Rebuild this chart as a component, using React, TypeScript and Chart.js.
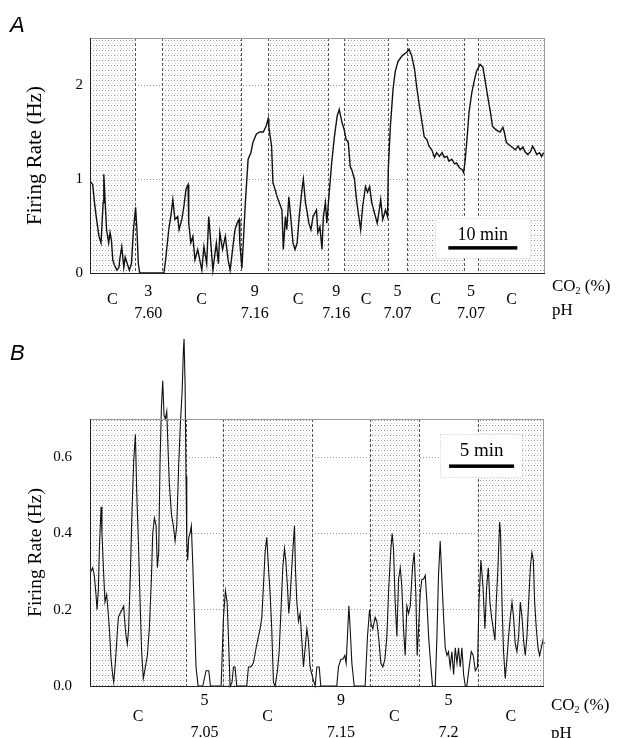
import React, { useEffect, useRef } from "react";
import { Chart, registerables } from "chart.js";
Chart.register(...registerables);

// ---------- Panel A data (time in minutes, firing rate in Hz) ----------
const timeA = [0.1,0.4,0.6,0.9,1.3,1.6,1.9,2.0,2.2,2.4,2.7,2.9,3.1,3.3,3.5,3.9,4.2,4.3,4.6,4.9,5.1,5.4,5.7,6.0,6.3,6.6,6.8,7.0,7.2,10.7,11.0,11.4,11.7,12.0,12.3,12.7,12.9,13.3,13.6,13.9,14.2,14.3,14.6,14.9,15.2,15.6,15.9,16.2,16.5,16.9,17.2,17.5,17.8,18.3,18.6,18.8,19.2,19.6,20.0,20.3,20.7,21.0,21.3,21.6,21.7,22.0,22.2,22.5,22.9,23.3,23.6,24.1,24.6,25.1,25.5,25.8,25.9,26.3,26.5,26.8,27.1,27.4,27.8,28.0,28.3,28.5,28.8,29.2,29.4,29.7,30.0,30.3,30.7,30.9,31.2,31.4,31.7,32.0,32.3,32.8,33.0,33.3,33.6,33.8,34.1,34.3,34.6,35.0,35.4,35.8,36.1,36.5,36.8,37.1,37.4,37.7,37.9,38.3,38.6,38.8,39.2,39.5,39.9,40.2,40.5,40.8,41.2,41.6,41.9,42.1,42.4,42.8,43.1,43.2,43.5,43.9,44.2,44.6,45.2,45.9,46.2,46.6,47.0,47.3,47.7,48.1,48.4,48.8,49.1,49.5,49.9,50.2,50.6,51.0,51.3,51.7,52.0,52.4,52.8,53.1,53.5,53.9,54.1,54.3,54.6,54.9,55.3,55.7,56.0,56.5,56.9,57.2,57.6,58.0,58.3,58.7,59.1,59.4,59.8,60.0,60.3,60.6,61.1,61.6,62.0,62.3,62.7,63.0,63.4,63.8,64.1,64.4,64.7,65.1,65.4,65.7];
const rateA = [0.97,0.94,0.78,0.60,0.39,0.32,0.75,1.05,0.75,0.46,0.32,0.43,0.35,0.14,0.09,0.03,0.06,0.14,0.28,0.06,0.17,0.10,0.03,0.10,0.46,0.70,0.46,0.10,0.0,0.0,0.17,0.46,0.60,0.78,0.57,0.60,0.46,0.57,0.71,0.89,0.94,0.53,0.32,0.39,0.14,0.25,0.14,0.03,0.28,0.10,0.60,0.32,0.03,0.32,0.10,0.43,0.25,0.39,0.14,0.03,0.28,0.46,0.53,0.57,0.32,0.05,0.32,0.75,1.21,1.28,1.39,1.48,1.50,1.50,1.56,1.64,1.55,1.35,0.96,0.89,0.81,0.75,0.67,0.25,0.60,0.46,0.81,0.49,0.32,0.25,0.32,0.60,0.89,1.00,0.75,0.67,0.53,0.46,0.60,0.67,0.43,0.49,0.25,0.60,0.75,0.53,0.81,1.17,1.45,1.67,1.74,1.60,1.53,1.42,1.39,1.13,1.10,1.00,0.78,0.67,0.46,0.71,0.92,0.86,0.92,0.75,0.64,0.53,0.67,0.78,0.57,0.67,0.60,1.10,1.56,1.96,2.14,2.25,2.31,2.35,2.38,2.31,2.17,1.99,1.78,1.60,1.45,1.42,1.35,1.31,1.23,1.28,1.24,1.28,1.23,1.24,1.19,1.21,1.16,1.17,1.12,1.10,1.07,1.17,1.42,1.71,1.92,2.06,2.15,2.22,2.19,2.06,1.88,1.71,1.56,1.53,1.51,1.50,1.55,1.50,1.39,1.37,1.34,1.31,1.35,1.31,1.34,1.29,1.26,1.29,1.35,1.31,1.26,1.28,1.24,1.28];
const controlStartA = [0, 10.4, 25.8, 36.8, 45.9, 56.2];
const controlEndA = [6.5, 21.9, 34.5, 43.2, 54.2, 65.9];
const co2A = ["3", "9", "9", "5", "5"];
const phA = ["7.60", "7.16", "7.16", "7.07", "7.07"];
const yTicksA = [0, 1, 2];

// ---------- Panel B data ----------
const timeB = [0.08,0.21,0.33,0.46,0.54,0.64,0.72,0.85,0.92,1.03,1.15,1.28,1.38,1.49,1.62,1.74,1.82,1.95,2.08,2.18,2.31,2.46,2.59,2.67,2.77,2.87,2.97,3.10,3.23,3.36,3.49,3.59,3.72,3.85,3.97,4.10,4.26,4.41,4.56,4.72,4.82,4.95,5.08,5.18,5.28,5.38,5.49,5.59,5.69,5.79,5.90,6.00,6.10,6.26,6.41,6.54,6.67,6.82,6.95,7.08,7.18,7.23,7.31,7.38,7.44,7.51,7.59,7.69,7.79,7.90,8.03,8.15,8.31,8.67,8.92,9.13,9.26,10.08,10.26,10.41,10.54,10.64,10.77,10.92,11.03,11.15,11.28,
  11.54,12.05,12.18,12.36,12.56,12.77,12.95,13.08,13.21,13.33,13.46,13.59,13.72,13.85,13.97,14.10,14.23,14.41,14.54,14.67,14.82,14.95,15.05,15.18,15.28,15.38,15.51,15.64,15.72,15.79,15.90,16.03,16.15,16.28,16.41,16.54,16.67,16.79,16.92,17.13,17.31,17.44,17.62,17.74,18.97,19.10,19.28,19.44,19.59,19.69,19.79,19.90,20.00,20.13,20.31,21.15,21.33,21.49,21.62,21.74,21.92,22.05,22.21,22.36,22.51,22.67,22.82,22.97,23.13,23.23,23.33,23.46,23.59,23.72,
  23.85,23.97,24.10,24.23,24.36,24.49,24.62,24.79,24.92,25.05,25.15,25.26,25.38,25.51,25.64,25.77,25.90,26.03,26.18,26.33,26.54,26.67,26.79,26.92,27.05,27.18,27.31,27.44,27.56,27.69,27.82,27.95,28.08,28.21,28.33,28.46,28.59,28.72,28.85,28.97,29.15,29.31,29.46,29.62,29.79,29.90,30.05,30.21,30.36,30.49,30.62,30.74,30.87,31.00,31.13,31.23,31.36,31.49,31.56,31.67,31.79,31.92,32.05,32.18,32.31,32.44,32.56,32.69,32.82,32.95,33.08,33.21,33.33,33.46,33.59,33.72,33.85,33.97,34.08,34.18,34.31,34.44,34.56,34.69,34.82,34.92];
const rateB = [0.30,0.31,0.29,0.24,0.20,0.25,0.36,0.47,0.40,0.31,0.22,0.24,0.20,0.15,0.07,0.03,0.01,0.06,0.13,0.18,0.19,0.20,0.21,0.17,0.13,0.11,0.15,0.29,0.46,0.59,0.66,0.51,0.38,0.22,0.09,0.02,0.05,0.08,0.15,0.28,0.40,0.44,0.42,0.31,0.35,0.58,0.73,0.80,0.71,0.70,0.72,0.62,0.53,0.45,0.42,0.38,0.42,0.58,0.69,0.77,0.88,0.91,0.79,0.55,0.38,0.33,0.39,0.40,0.42,0.32,0.18,0.05,0,0,0.04,0.04,0,0,0.18,0.25,0.22,0.13,0,0.01,0.05,0.05,0,
  0,0,0.05,0.05,0.06,0.10,0.13,0.15,0.18,0.26,0.35,0.39,0.31,0.24,0.15,0.01,0,0.04,0.09,0.19,0.31,0.36,0.33,0.26,0.19,0.23,0.31,0.38,0.42,0.31,0.22,0.17,0.19,0.12,0.05,0.10,0.15,0.12,0.05,0.02,0,0.05,0.05,0,0,0.05,0.07,0.07,0.08,0.06,0.13,0.21,0.15,0.06,0,0,0.13,0.20,0.16,0.15,0.18,0.17,0.12,0.06,0.05,0.07,0.13,0.26,0.36,0.40,0.36,0.22,0.13,0.28,
  0.31,0.26,0.15,0.08,0.21,0.19,0.21,0.31,0.35,0.24,0.08,0.15,0.24,0.28,0.28,0.29,0.22,0.13,0.06,0,0,0.13,0.29,0.38,0.28,0.18,0.10,0.08,0.09,0.05,0.09,0.03,0.10,0.06,0.10,0.05,0.10,0.03,0,0,0.05,0.09,0.08,0.04,0.05,0.22,0.33,0.26,0.15,0.26,0.31,0.22,0.18,0.15,0.12,0.22,0.31,0.43,0.40,0.22,0.09,0.02,0.07,0.13,0.18,0.22,0.18,0.11,0.09,0.13,0.22,0.18,0.12,0.08,0.13,0.22,0.31,0.35,0.33,0.22,0.15,0.10,0.08,0.10,0.12,0.11];
const controlStartB = [0, 10.2, 21.5, 29.8];
const controlEndB = [7.4, 17.1, 25.3, 34.9];
const co2B = ["5", "9", "5"];
const phB = ["7.05", "7.15", "7.2"];
const yTicksB = [0, 0.2, 0.4, 0.6];

const SERIF = '"Liberation Serif", "Times New Roman", serif';

type Cfg = {
  letter: string; time: number[]; rate: number[]; starts: number[]; ends: number[];
  co2: string[]; ph: string[]; yTicks: number[]; yMax: number; xMax: number; decimals: number;
  top: number; height: number; pad: { top: number; right: number; bottom: number };
  tickPad: number; titleSize: number; titlePad: number; lineWidth: number;
  off: { num: number; c: number; ph: number; co2L: number; phL: number };
  letterY: number;
  bar: { start: number; minutes: number; level: number; label: string; font: number; textOff: number; box: number[] };
};

function makeTile(): HTMLCanvasElement {
  const c = document.createElement("canvas");
  c.width = 6; c.height = 5;
  const g = c.getContext("2d")!;
  g.fillStyle = "#ffffff"; g.fillRect(0, 0, 6, 5);
  g.fillStyle = "#858585"; g.fillRect(0, 0, 1, 1);
  g.fillStyle = "#a8a8a8"; g.fillRect(3, 0, 1, 1);
  g.fillStyle = "#d6d6d6"; g.fillRect(1, 3, 1, 1);
  g.fillStyle = "#dedede"; g.fillRect(4, 3, 1, 1);
  return c;
}

function makePlugin(cfg: Cfg) {
  return {
    id: "decor" + cfg.letter,
    beforeDatasetsDraw(chart: any) {
      const { ctx, chartArea: a, scales } = chart;
      const x = scales.x;
      ctx.save();
      const pat = ctx.createPattern(makeTile(), "repeat");
      ctx.fillStyle = pat;
      for (let i = 0; i < cfg.starts.length; i++) {
        const x0 = x.getPixelForValue(cfg.starts[i]);
        const x1 = x.getPixelForValue(cfg.ends[i]);
        ctx.fillRect(x0, a.top, x1 - x0, a.bottom - a.top);
      }
      ctx.strokeStyle = "#555";
      ctx.lineWidth = 1;
      ctx.setLineDash([3, 2]);
      const bounds = [...cfg.starts, ...cfg.ends].filter((b) => b > 0 && b < cfg.xMax);
      for (const b of bounds) {
        const px = Math.round(x.getPixelForValue(b)) + 0.5;
        ctx.beginPath(); ctx.moveTo(px, a.top); ctx.lineTo(px, a.bottom); ctx.stroke();
      }
      ctx.restore();
    },
    afterDatasetsDraw(chart: any) {
      const { ctx, chartArea: a, scales } = chart;
      const x = scales.x, y = scales.y;
      ctx.save();
      ctx.lineWidth = 1;
      ctx.strokeStyle = "#9a9a9a";
      ctx.beginPath(); ctx.moveTo(a.left, a.top + 0.5); ctx.lineTo(a.right, a.top + 0.5); ctx.stroke();
      ctx.beginPath(); ctx.moveTo(a.right - 0.5, a.top); ctx.lineTo(a.right - 0.5, a.bottom); ctx.stroke();
      ctx.strokeStyle = "#222";
      ctx.beginPath(); ctx.moveTo(a.left + 0.5, a.top); ctx.lineTo(a.left + 0.5, a.bottom + 0.5); ctx.lineTo(a.right, a.bottom + 0.5); ctx.stroke();
      const bx0 = x.getPixelForValue(cfg.bar.start);
      const bx1 = x.getPixelForValue(cfg.bar.start + cfg.bar.minutes);
      const by = y.getPixelForValue(cfg.bar.level);
      const [pl, pr, up, down] = cfg.bar.box;
      ctx.fillStyle = "#fff";
      ctx.fillRect(bx0 - pl, by - up, bx1 - bx0 + pl + pr, up + down);
      ctx.strokeStyle = "#c4c4c4";
      ctx.setLineDash([1, 2]);
      ctx.strokeRect(Math.round(bx0 - pl) + 0.5, Math.round(by - up) + 0.5, Math.round(bx1 - bx0 + pl + pr), Math.round(up + down));
      ctx.setLineDash([]);
      ctx.fillStyle = "#000";
      ctx.fillRect(bx0, by - 1.5, bx1 - bx0, 3.5);
      ctx.font = `${cfg.bar.font}px ${SERIF}`;
      ctx.textAlign = "center";
      ctx.textBaseline = "middle";
      ctx.fillText(cfg.bar.label, (bx0 + bx1) / 2, by + cfg.bar.textOff);
      ctx.restore();
    },
    afterDraw(chart: any) {
      const { ctx, chartArea: a, scales } = chart;
      const x = scales.x;
      ctx.save();
      ctx.fillStyle = "#000";
      ctx.textAlign = "center";
      ctx.textBaseline = "middle";
      ctx.font = `16px ${SERIF}`;
      for (let i = 0; i < cfg.starts.length; i++) {
        const cx = x.getPixelForValue((cfg.starts[i] + cfg.ends[i]) / 2);
        ctx.fillText("C", cx, a.bottom + cfg.off.c);
      }
      for (let i = 0; i < cfg.co2.length; i++) {
        const cx = x.getPixelForValue((cfg.ends[i] + cfg.starts[i + 1]) / 2);
        ctx.fillText(cfg.co2[i], cx, a.bottom + cfg.off.num);
        ctx.fillText(cfg.ph[i], cx, a.bottom + cfg.off.ph);
      }
      ctx.textAlign = "left";
      ctx.font = `17px ${SERIF}`;
      let lx = a.right + 7;
      const ly = a.bottom + cfg.off.co2L;
      ctx.fillText("CO", lx, ly);
      lx += ctx.measureText("CO").width;
      ctx.font = `10px ${SERIF}`;
      ctx.fillText("2", lx, ly + 4);
      lx += ctx.measureText("2").width;
      ctx.font = `17px ${SERIF}`;
      ctx.fillText(" (%)", lx, ly);
      ctx.fillText("pH", a.right + 7, a.bottom + cfg.off.phL);
      ctx.textBaseline = "alphabetic";
      ctx.font = 'italic 22px "Liberation Sans", Arial, sans-serif';
      ctx.fillText(cfg.letter, 10, cfg.letterY);
      ctx.restore();
    },
  };
}

function Panel({ cfg }: { cfg: Cfg }) {
  const ref = useRef<HTMLCanvasElement>(null);
  useEffect(() => {
    const n = Math.min(cfg.time.length, cfg.rate.length);
    const pts = [] as { x: number; y: number }[];
    for (let i = 0; i < n; i++) pts.push({ x: cfg.time[i], y: cfg.rate[i] });
    const chart = new Chart(ref.current!, {
      type: "line",
      data: {
        datasets: [
          {
            data: pts,
            borderColor: "#111",
            borderWidth: cfg.lineWidth,
            pointRadius: 0,
            tension: 0,
            fill: false,
            clip: false as any,
          },
        ],
      },
      options: {
        responsive: false,
        maintainAspectRatio: false,
        animation: false,
        events: [],
        layout: { padding: { left: 0, top: cfg.pad.top, right: cfg.pad.right, bottom: cfg.pad.bottom } },
        plugins: { legend: { display: false }, tooltip: { enabled: false } },
        scales: {
          x: { type: "linear", display: false, min: 0, max: cfg.xMax },
          y: {
            type: "linear",
            min: 0,
            max: cfg.yMax,
            afterFit: (s: any) => { s.width = 90; },
            afterBuildTicks: (s: any) => { s.ticks = cfg.yTicks.map((v) => ({ value: v })); },
            ticks: {
              color: "#000",
              font: { family: SERIF, size: 15 },
              padding: cfg.tickPad,
              callback: (v: any) => Number(v).toFixed(cfg.decimals),
            },
            grid: { color: "#9a9a9a", lineWidth: 1, drawTicks: false },
            border: { display: false, dash: [1, 2] },
            title: {
              display: true,
              text: "Firing Rate (Hz)",
              color: "#000",
              font: { family: SERIF, size: cfg.titleSize },
              padding: { top: cfg.titlePad, bottom: 0 },
            },
          },
        },
      } as any,
      plugins: [makePlugin(cfg) as any],
    });
    return () => chart.destroy();
  }, [cfg]);
  return (
    <canvas
      ref={ref}
      width={621}
      height={cfg.height}
      style={{ position: "absolute", left: 0, top: cfg.top, display: "block" }}
    />
  );
}

const cfgA: Cfg = {
  letter: "A", time: timeA, rate: rateA, starts: controlStartA, ends: controlEndA,
  co2: co2A, ph: phA, yTicks: yTicksA, yMax: 2.5, xMax: 65.9, decimals: 0,
  top: 0, height: 330, pad: { top: 38, right: 76, bottom: 57 },
  tickPad: 7, titleSize: 21, titlePad: 23, lineWidth: 1.4,
  off: { num: 19, c: 27, ph: 41, co2L: 14, phL: 38 },
  letterY: 32,
  bar: { start: 51.9, minutes: 10, level: 0.27, label: "10 min", font: 18, textOff: -12, box: [13, 13, 30, 10] },
};

const cfgB: Cfg = {
  letter: "B", time: timeB, rate: rateB, starts: controlStartB, ends: controlEndB,
  co2: co2B, ph: phB, yTicks: yTicksB, yMax: 0.7, xMax: 34.9, decimals: 1,
  top: 330, height: 408, pad: { top: 89, right: 77, bottom: 52 },
  tickPad: 18, titleSize: 19.5, titlePad: 24, lineWidth: 1.1,
  off: { num: 15, c: 31, ph: 47, co2L: 20, phL: 48 },
  letterY: 30,
  bar: { start: 27.6, minutes: 5, level: 0.577, label: "5 min", font: 19, textOff: -15, box: [9, 8, 32, 11] },
};

export default function App() {
  return (
    <div style={{ position: "fixed", left: 0, top: 0, width: 621, height: 738, background: "#fff", overflow: "hidden" }}>
      <Panel cfg={cfgA} />
      <Panel cfg={cfgB} />
    </div>
  );
}
